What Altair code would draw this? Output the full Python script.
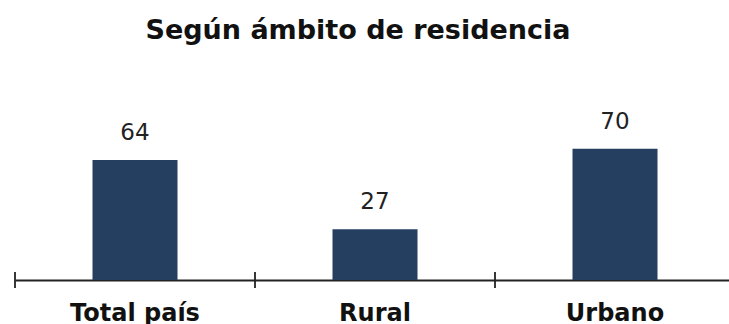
import altair as alt
import pandas as pd

categories = ["Total país", "Rural", "Urbano"]
values = [64, 27, 70]
title_text = "Según ámbito de residencia"

df = pd.DataFrame({"cat": categories, "val": values})

x_scale = alt.Scale(range=[0, 720], paddingInner=0, paddingOuter=0)
y_scale = alt.Scale(domain=[0, 149.33])

base = alt.Chart(df)

bars = base.mark_bar(width=85, color="#243f60").encode(
    x=alt.X("cat:N", sort=categories, scale=x_scale,
            axis=alt.Axis(title=None, labelAngle=0, labelFont="DejaVu Sans",
                          labelFontWeight="bold", labelFontSize=24, labelColor="#111",
                          labelPadding=21, labelBaseline="top", ticks=False, tickSize=0,
                          domainColor="#222", domainWidth=1.8, grid=False)),
    y=alt.Y("val:Q", scale=y_scale, axis=None),
)

labels = base.mark_text(dy=-20, baseline="alphabetic", fontSize=23,
                        font="DejaVu Sans", color="#222").encode(
    x=alt.X("cat:N", sort=categories, scale=x_scale),
    y=alt.Y("val:Q", scale=y_scale),
    text=alt.Text("val:Q"),
)

ticks = base.mark_rule(color="#222", strokeWidth=1.8).encode(
    x=alt.X("cat:N", sort=categories, scale=x_scale, bandPosition=0),
    y=alt.value(272),
    y2=alt.value(288),
)

title = alt.Chart(pd.DataFrame({"t": [title_text]})).mark_text(
    font="DejaVu Sans", fontWeight="bold", fontSize=27, color="#111",
    baseline="alphabetic", align="center").encode(
    x=alt.value(343), y=alt.value(39), text="t:N")

chart = alt.layer(bars, labels, ticks, title).properties(
    width=714, height=280,
    autosize=alt.AutoSizeParams(type="none"),
    padding={"left": 15, "top": 0, "right": 0, "bottom": 44},
    background="white",
).configure_view(stroke=None)

chart.save("out.html", embed_options={"renderer": "svg", "actions": False})
